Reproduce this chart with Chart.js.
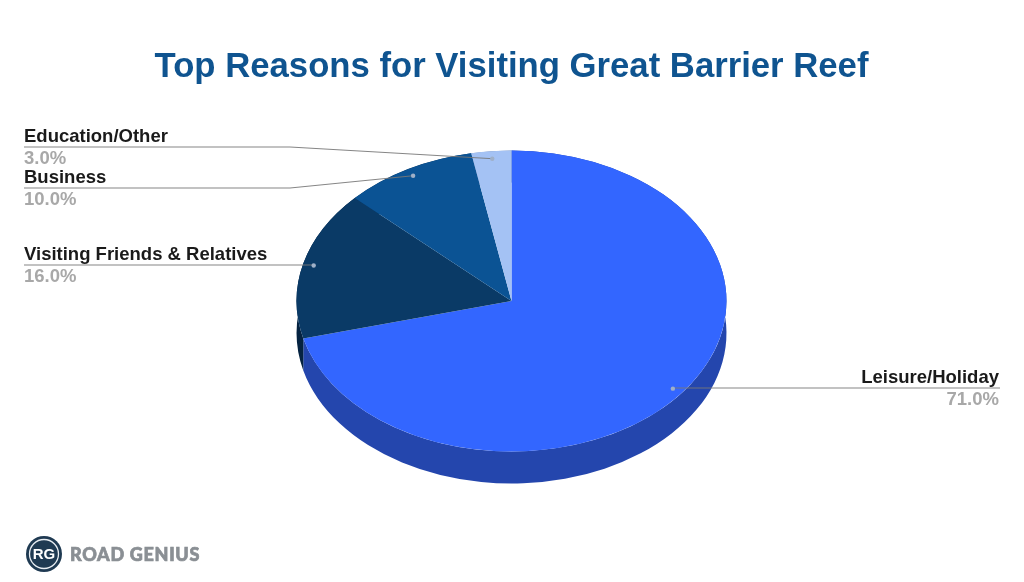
<!DOCTYPE html>
<html>
<head>
<meta charset="utf-8">
<style>html,body{margin:0;padding:0;background:#fff;overflow:hidden}canvas{display:block}</style>
<script src="https://cdn.jsdelivr.net/npm/chart.js@4"></script>
</head>
<body>
<canvas id="c" width="1024" height="582"></canvas>
<script>
const categories = ["Leisure/Holiday", "Visiting Friends & Relatives", "Business", "Education/Other"];
const shares = [71, 16, 10, 3];
const shareLabels = ["71.0%", "16.0%", "10.0%", "3.0%"];
const faceColors = ["#3366ff", "#0a3a66", "#0b5394", "#a4c2f4"];
const sideColors = ["#2446ad", "#052341", "#083a68", "#7389ad"];
const titleText = "Top Reasons for Visiting Great Barrier Reef";

const SQUASH = 0.7, DEPTH = 32, DOT_FRACTION = 0.95;
// label anchor: line y, optional elbow x, text side
const anchors = [
  {lineY: 388, side: "right"},
  {lineY: 265, side: "left"},
  {lineY: 188, elbow: 290, side: "left"},
  {lineY: 147, elbow: 290, side: "left"}
];
const LEFT_X = 24, RIGHT_X = 1000;

const pie3d = {
  id: "pie3d",
  beforeDatasetDraw(chart) {
    const ctx = chart.ctx;
    chart.getDatasetMeta(0).data.forEach((el, i) => {
      const p = el.getProps(["x", "y", "startAngle", "endAngle", "outerRadius"], true);
      const ry = p.outerRadius * SQUASH;
      ctx.beginPath();
      ctx.ellipse(p.x, p.y, p.outerRadius, ry, 0, p.startAngle, p.endAngle);
      ctx.ellipse(p.x, p.y + DEPTH, p.outerRadius, ry, 0, p.endAngle, p.startAngle, true);
      ctx.closePath();
      ctx.fillStyle = sideColors[i];
      ctx.fill();
    });
    const p0 = chart.getDatasetMeta(0).data[0];
    ctx.save();
    ctx.translate(p0.x, p0.y);
    ctx.scale(1, SQUASH);
    ctx.translate(-p0.x, -p0.y);
  },
  afterDatasetDraw(chart) {
    chart.ctx.restore();
  },
  afterDraw(chart) {
    const ctx = chart.ctx;
    chart.getDatasetMeta(0).data.forEach((el, i) => {
      const p = el.getProps(["x", "y", "startAngle", "endAngle", "outerRadius"], true);
      const mid = (p.startAngle + p.endAngle) / 2;
      const dx = p.x + Math.cos(mid) * p.outerRadius * DOT_FRACTION;
      const dy = p.y + Math.sin(mid) * p.outerRadius * SQUASH * DOT_FRACTION;
      const a = anchors[i];
      const endX = a.side === "left" ? LEFT_X : RIGHT_X;
      ctx.beginPath();
      ctx.moveTo(dx, dy);
      if (a.elbow) ctx.lineTo(a.elbow, a.lineY);
      else ctx.lineTo(dx, a.lineY);
      ctx.lineTo(endX, a.lineY);
      ctx.strokeStyle = "rgba(120,120,120,0.9)";
      ctx.lineWidth = 1;
      ctx.stroke();
      ctx.beginPath();
      ctx.arc(dx, dy, 2.2, 0, Math.PI * 2);
      ctx.fillStyle = "#9fb0c8";
      ctx.fill();
      ctx.textAlign = a.side;
      ctx.textBaseline = "alphabetic";
      ctx.font = "bold 18.5px 'Liberation Sans'";
      ctx.fillStyle = "#1a1a1a";
      ctx.fillText(categories[i], a.side === "left" ? endX : endX - 1, a.lineY - 5);
      ctx.fillStyle = "#a8a8a8";
      ctx.fillText(shareLabels[i], a.side === "left" ? endX : endX - 1, a.lineY + 17);
    });
    // brand mark
    ctx.beginPath();
    ctx.arc(44, 554, 18, 0, Math.PI * 2);
    ctx.fillStyle = "#1f3a52";
    ctx.fill();
    ctx.beginPath();
    ctx.arc(44, 554, 14.5, 0, Math.PI * 2);
    ctx.strokeStyle = "#e8edf2";
    ctx.lineWidth = 1.3;
    ctx.stroke();
    ctx.textAlign = "center";
    ctx.textBaseline = "middle";
    ctx.font = "bold 15px 'Liberation Sans'";
    ctx.fillStyle = "#ffffff";
    ctx.fillText("RG", 44, 555);
    ctx.textAlign = "left";
    ctx.font = "900 18px Lato";
    ctx.letterSpacing = "0.7px";
    ctx.fillStyle = "#8a8f94";
    ctx.strokeStyle = "#8a8f94";
    ctx.lineWidth = 0.7;
    ctx.strokeText("ROAD GENIUS", 70, 555);
    ctx.fillText("ROAD GENIUS", 70, 555);
    ctx.letterSpacing = "0px";
  }
};

new Chart(document.getElementById("c"), {
  type: "pie",
  data: {
    labels: categories,
    datasets: [{data: shares, backgroundColor: faceColors, borderWidth: 0, clip: false}]
  },
  options: {
    responsive: false,
    animation: false,
    devicePixelRatio: 1,
    layout: {padding: {top: 0, left: 0, right: 1, bottom: 66}},
    plugins: {
      legend: {display: false},
      tooltip: {enabled: false},
      title: {
        display: true,
        text: titleText,
        color: "#0f5490",
        font: {family: "'Liberation Sans'", size: 34.7, weight: "bold"},
        padding: {top: 47, bottom: -2.6}
      }
    }
  },
  plugins: [pie3d]
});
</script>
</body>
</html>
